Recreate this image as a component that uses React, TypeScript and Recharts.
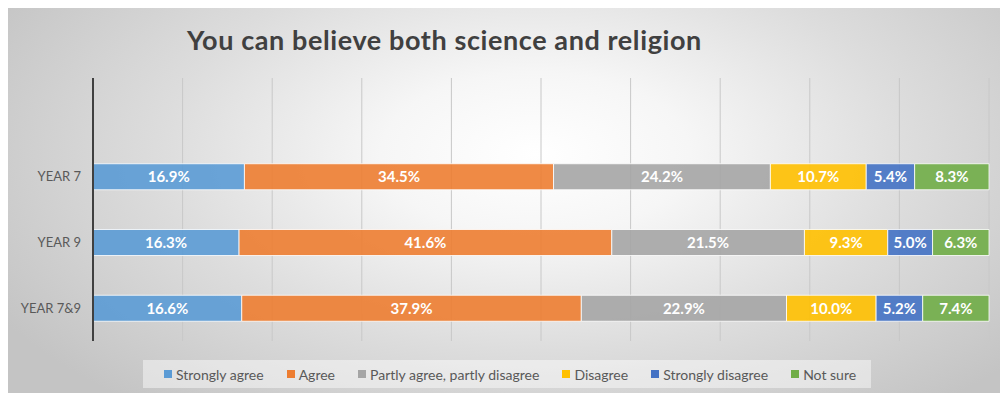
import React from 'react';
import { BarChart, Bar, XAxis, YAxis, CartesianGrid, LabelList, Legend } from 'recharts';

// Survey responses (% of pupils); the first, blank row leaves empty space above the bars
const categories = ['', 'YEAR 7', 'YEAR 9', 'YEAR 7&9'];
const stronglyAgree = [null, 16.9, 16.3, 16.6];
const agree = [null, 34.5, 41.6, 37.9];
const partlyAgree = [null, 24.2, 21.5, 22.9];
const disagree = [null, 10.7, 9.3, 10.0];
const stronglyDisagree = [null, 5.4, 5.0, 5.2];
const notSure = [null, 8.3, 6.3, 7.4];

const seriesNames = [
  'Strongly agree',
  'Agree',
  'Partly agree, partly disagree',
  'Disagree',
  'Strongly disagree',
  'Not sure',
];
const seriesColors = ['#5B9BD5', '#ED7D31', '#A5A5A5', '#FFC000', '#4472C4', '#70AD47'];
const seriesValues = [stronglyAgree, agree, partlyAgree, disagree, stronglyDisagree, notSure];
const seriesKeys = ['s0', 's1', 's2', 's3', 's4', 's5'];

const xDomain = [0, 100];
const xTicks = [0, 10, 20, 30, 40, 50, 60, 70, 80, 90, 100];

const data = categories.map((name, i) => {
  const row: Record<string, string | number | null> = { name };
  seriesKeys.forEach((k, j) => {
    row[k] = seriesValues[j][i];
  });
  return row;
});

const FONT = 'Lato, "Open Sans", sans-serif';

const formatPct = (v: unknown) =>
  typeof v === 'number' ? `${v.toFixed(1)}%` : '';

// vertical gridlines at every 10% through the x axis scale
const gridX = (props: any) => {
  const s = props?.xAxis?.scale;
  if (typeof s === 'function') return xTicks.map((t) => s(t));
  if (s && typeof s.map === 'function') return xTicks.map((t) => s.map(t));
  const off = props?.offset;
  if (!off) return [];
  return xTicks.map(
    (t) => off.left + (off.width * (t - xDomain[0])) / (xDomain[1] - xDomain[0])
  );
};

const renderLegend = () => (
  <div
    style={{
      display: 'flex',
      alignItems: 'center',
      justifyContent: 'center',
      height: 28,
      background: 'rgba(255,255,255,0.45)',
      fontFamily: FONT,
      fontSize: 14,
      color: '#595959',
      gap: 23,
      paddingLeft: 6,
      boxSizing: 'border-box',
    }}
  >
    {seriesNames.map((n, i) => (
      <div key={n} style={{ display: 'flex', alignItems: 'center' }}>
        <span
          style={{
            display: 'inline-block',
            width: 8,
            height: 8,
            background: seriesColors[i],
            marginRight: 4,
          }}
        />
        <span>{n}</span>
      </div>
    ))}
  </div>
);

export default function App() {
  return (
    <div
      style={{
        position: 'relative',
        width: 997,
        height: 385,
        marginLeft: -1,
        background:
          'radial-gradient(ellipse 62% 85% at 53% 38%, #ffffff 0%, #f6f6f6 25%, #dddddd 60%, #c4c4c4 100%)',
      }}
    >
      <div
        style={{
          position: 'absolute',
          left: 180,
          top: 18,
          fontFamily: FONT,
          fontWeight: 700,
          fontSize: 27,
          letterSpacing: 0.6,
          lineHeight: 1,
          color: '#404040',
          whiteSpace: 'nowrap',
        }}
      >
        You can believe both science and religion
      </div>
      <BarChart
        width={997}
        height={385}
        data={data}
        layout="vertical"
        margin={{ top: 70, right: 15, bottom: 24, left: 0 }}
        style={{ position: 'absolute', left: 0, top: 0 }}
      >
        <CartesianGrid
          horizontal={false}
          stroke="#c8c8c8"
          strokeWidth={1}
          verticalCoordinatesGenerator={gridX}
        />
        <XAxis
          type="number"
          domain={xDomain}
          ticks={xTicks}
          tick={false}
          tickLine={false}
          axisLine={false}
          height={0}
        />
        <YAxis
          type="category"
          dataKey="name"
          width={86}
          tickLine={false}
          tickMargin={6}
          axisLine={{ stroke: '#404040', strokeWidth: 2 }}
          tick={{ fill: '#595959', fontSize: 13, fontFamily: FONT }}
        />
        {seriesKeys.map((k, i) => (
          <Bar
            key={k}
            dataKey={k}
            name={seriesNames[i]}
            stackId="a"
            fill={seriesColors[i]}
            fillOpacity={0.9}
            stroke="#ffffff"
            strokeOpacity={0.8}
            strokeWidth={1}
            barSize={26}
            isAnimationActive={false}
          >
            <LabelList
              dataKey={k}
              position="center"
              formatter={formatPct}
              fill="#ffffff"
              fontSize={15}
              fontWeight={700}
              fontFamily={FONT}
            />
          </Bar>
        ))}
        <Legend
          content={renderLegend}
          wrapperStyle={{ position: 'absolute', left: 136, top: 352, width: 728, height: 28 }}
        />
      </BarChart>
    </div>
  );
}
